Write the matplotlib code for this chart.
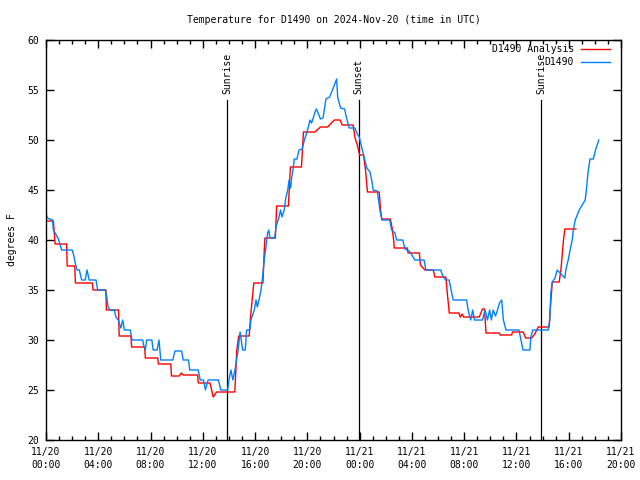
import matplotlib
matplotlib.use("Agg")
import matplotlib.pyplot as plt
from matplotlib.ticker import MultipleLocator

# hours since 2024-11-20 00:00 UTC
analysis_hours = [0, 0.56, 0.7, 1.58, 1.62, 2.2, 2.25, 3.55, 3.6, 4.58, 4.62, 5.55, 5.6, 6.5,
                  6.55, 7.55, 7.6, 8.55, 8.6, 9.55, 9.6, 10.2, 10.35, 10.5, 11.6, 11.65, 12.55,
                  12.8, 13.05, 14.45, 14.6, 14.75, 15.55, 15.65, 15.9, 16.6, 16.7, 16.75, 17.55,
                  17.65, 18.55, 18.7, 19.55, 19.7, 20.58, 21.0, 21.55, 22.06, 22.5, 22.67, 23.5,
                  23.65, 23.82, 24.0, 24.3, 24.45, 24.6, 25.5, 25.6, 25.7, 26.35, 26.5, 26.6,
                  26.65, 27.65, 27.7, 28.57, 28.65, 29.0, 29.63, 29.76, 30.6, 30.7, 30.86, 31.6,
                  31.7, 31.85, 31.95, 33.15, 33.4, 33.55, 33.67, 34.68, 34.75, 35.63, 35.7,
                  36.52, 36.7, 37.16, 37.4, 37.67, 38.5, 38.6, 38.74, 39.27, 39.4, 39.6, 39.7,
                  40.55]
analysis_temps = [41.9, 41.9, 39.6, 39.6, 37.4, 37.4, 35.7, 35.7, 35.0, 35.0, 33.0, 33.0, 30.4, 30.4,
                  29.3, 29.3, 28.2, 28.2, 27.6, 27.6, 26.4, 26.4, 26.7, 26.5, 26.5, 25.7, 25.7,
                  24.3, 24.8, 24.8, 29.0, 30.4, 30.4, 32.3, 35.7, 35.7, 38.9, 40.2, 40.2,
                  43.4, 43.4, 47.3, 47.3, 50.8, 50.8, 51.3, 51.3, 52.0, 52.0, 51.5, 51.5,
                  50.2, 49.5, 48.5, 48.5, 47.0, 44.8, 44.8, 43.0, 42.1, 42.1, 41.1, 40.0,
                  39.2, 39.2, 38.7, 38.7, 37.5, 37.0, 37.0, 36.3, 36.3, 34.8, 32.7, 32.7,
                  32.3, 32.6, 32.3, 32.3, 33.1, 33.1, 30.7, 30.7, 30.5, 30.5, 30.8,
                  30.8, 30.2, 30.2, 30.6, 31.3, 31.3, 33.3, 35.8, 35.8, 37.0, 40.0, 41.1,
                  41.1]

obs_hours = [0, 0.1, 0.5, 0.56, 0.7, 0.95, 1.2, 2.0, 2.1, 2.24, 2.37, 2.55, 2.73, 3.0, 3.14, 3.3,
             3.83, 3.95, 4.54, 4.65, 4.75, 4.9, 5.23, 5.35, 5.53, 5.73, 5.87, 6.0, 6.45, 6.58,
             7.4, 7.5, 7.6, 7.7, 8.1, 8.2, 8.5, 8.65, 8.78, 9.7, 9.87, 10.38, 10.5, 10.9, 11.0,
             11.65, 11.8, 12.05, 12.13, 12.2, 12.4, 13.2, 13.37, 13.9, 14.0, 14.15, 14.3, 14.5,
             14.7, 14.85, 15.05, 15.25, 15.35, 15.6, 15.68, 15.94, 16.07, 16.17, 16.3, 16.45,
             16.55, 16.7, 16.8, 16.96, 17.05, 17.14, 17.5, 17.6, 17.83, 17.95, 18.05, 18.23,
             18.35, 18.5, 18.6, 18.72, 18.8, 18.9, 19.0, 19.2, 19.36, 19.6, 19.77, 19.95, 20.07,
             20.2, 20.32, 20.45, 20.58, 20.7, 20.82, 21.0, 21.2, 21.42, 21.7, 21.98, 22.24,
             22.32, 22.54, 22.85, 23.0, 23.2, 23.64, 23.78, 23.97, 24.15, 24.4, 24.55, 24.79,
             24.92, 25.04, 25.35, 25.55, 25.7, 26.3, 26.45, 26.7, 26.83, 27.3, 27.47, 27.8,
             28.23, 28.93, 29.07, 30.2, 30.4, 30.6, 30.85, 31.0, 31.16, 32.19, 32.3, 32.5,
             32.65, 32.78, 32.95, 33.4, 33.6, 33.78, 33.95, 34.08, 34.22, 34.4, 34.55, 34.7,
             34.87, 35.0, 35.2, 36.2, 36.3, 36.5, 37.03, 37.1, 37.24, 38.43, 38.55, 38.63,
             38.74, 38.95, 39.12, 39.27, 39.7, 39.78, 39.96, 40.15, 40.27, 40.35, 40.5, 40.8,
             41.26, 41.35, 41.42, 41.5, 41.63, 41.88, 42.05, 42.3]
obs_temps = [42.7, 42.2, 42.0, 41.0, 40.7, 40.1, 39.0, 39.0, 38.6, 37.7, 37.0, 37.0, 36.0, 36.0, 37.0, 36.0,
             36.0, 35.0, 35.0, 34.3, 33.3, 33.0, 33.0, 32.3, 32.0, 31.2, 32.0, 31.0, 31.0, 30.0,
             30.0, 29.3, 29.0, 30.0, 30.0, 29.0, 29.0, 30.0, 28.0, 28.0, 28.9, 28.9, 28.0, 28.0, 27.0,
             27.0, 26.0, 26.0, 25.5, 25.0, 26.0, 26.0, 25.0, 25.0, 26.0, 27.0, 26.0, 27.3,
             29.0, 30.8, 29.0, 29.0, 31.0, 31.0, 32.0, 33.0, 34.0, 33.3, 34.0, 35.0,
             36.0, 38.0, 39.0, 40.7, 41.0, 40.2, 40.2, 41.3, 42.3, 43.0, 42.3, 43.0,
             44.2, 45.0, 46.0, 45.2, 46.3, 47.0, 48.1, 48.1, 49.0, 49.1, 50.0, 50.7, 51.3,
             52.0, 51.7, 52.2, 52.8, 53.1, 52.7, 52.1, 52.2, 54.1, 54.3, 55.2, 56.1,
             54.3, 53.2, 53.1, 52.2, 51.2, 51.2, 50.7, 50.3, 49.3, 48.0, 47.2, 46.8,
             46.0, 45.0, 44.9, 43.0, 42.0, 42.0, 41.0, 40.7, 40.0, 40.0, 39.1, 38.9,
             38.0, 38.0, 37.0, 37.0, 36.3, 36.0, 36.0, 35.0, 34.0, 34.0, 33.0, 32.0,
             33.0, 32.0, 32.0, 32.0, 33.0, 32.0, 33.0, 32.0, 33.0, 32.4, 33.0, 33.7,
             34.0, 32.0, 31.0, 31.0, 30.3, 29.0, 29.0, 30.3, 31.0, 31.0, 32.0, 34.7,
             35.8, 36.2, 37.0, 36.8, 36.2, 37.0, 38.0, 39.3, 40.0, 41.0, 42.0, 43.0,
             44.0, 45.0, 46.0, 47.0, 48.1, 48.1, 49.0, 50.0]

sun_events = ["Sunrise", "Sunset", "Sunrise"]
sun_hours = [13.87, 23.93, 37.9]

tick_hours = [0, 4, 8, 12, 16, 20, 24, 28, 32, 36, 40, 44]
tick_labels = ["11/20\n00:00", "11/20\n04:00", "11/20\n08:00", "11/20\n12:00",
               "11/20\n16:00", "11/20\n20:00", "11/21\n00:00", "11/21\n04:00",
               "11/21\n08:00", "11/21\n12:00", "11/21\n16:00", "11/21\n20:00"]

plt.rcParams['font.family'] = ['DejaVu Sans Mono']
plt.rcParams['font.size'] = 7

fig = plt.figure(figsize=(6.4, 4.8), dpi=100)
ax = fig.add_axes([46/640, 40/480, 575/640, 400/480])

for name, h in zip(sun_events, sun_hours):
    ax.plot([h, h], [20, 54], color='black', lw=0.9)
    ax.text(h, 54.6, name, rotation=90, ha='center', va='bottom', fontsize=7)

ax.plot(analysis_hours, analysis_temps, color='#ff0000', lw=1.0)
ax.plot(obs_hours, obs_temps, color='#0080ff', lw=1.0)

ax.set_xlim(0, 44)
ax.set_ylim(20, 60)
ax.set_xticks(tick_hours)
ax.set_xticklabels(tick_labels, linespacing=1.4)
ax.xaxis.set_minor_locator(MultipleLocator(1))
ax.set_yticks(range(20, 61, 5))
ax.tick_params(which='both', direction='in', top=True, right=True, width=1.0)
ax.tick_params(which='major', length=6, pad=5)
ax.tick_params(which='minor', length=3)
for s in ax.spines.values():
    s.set_linewidth(1.0)

# key, gnuplot style
ax.text(0.918, 0.9775, "D1490 Analysis", transform=ax.transAxes, ha='right', va='center')
ax.plot([0.930, 0.981], [0.9775, 0.9775], transform=ax.transAxes, color='#ff0000', lw=1.0)
ax.text(0.918, 0.945, "D1490", transform=ax.transAxes, ha='right', va='center')
ax.plot([0.930, 0.981], [0.945, 0.945], transform=ax.transAxes, color='#0080ff', lw=1.0)

fig.text(333.5/640, 1 - 20/480, "Temperature for D1490 on 2024-Nov-20 (time in UTC)",
         ha='center', va='center', fontsize=7)
fig.text(12/640, 0.5, "degrees F", rotation=90, ha='center', va='center', fontsize=7)

fig.savefig("out.png", dpi=100)
